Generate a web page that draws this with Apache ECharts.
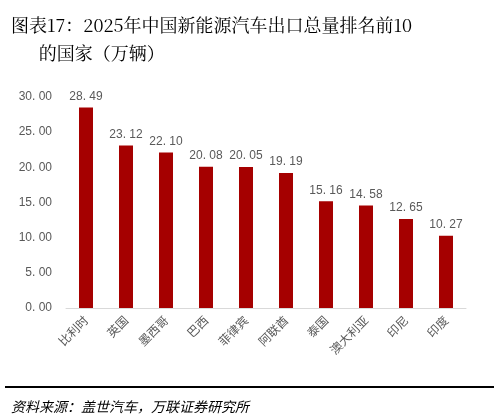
<!DOCTYPE html>
<html><head><meta charset="utf-8">
<script src="https://cdn.jsdelivr.net/npm/echarts@6/dist/echarts.min.js"></script>
<style>body{margin:0;background:#fff}#c{width:499px;height:418px}</style>
</head><body><div id="c"></div>
<script>
const categories=['比利时','英国','墨西哥','巴西','菲律宾','阿联酋','泰国','澳大利亚','印尼','印度'];
const values=[28.49,23.12,22.10,20.08,20.05,19.19,15.16,14.58,12.65,10.27];
const chart=echarts.init(document.getElementById('c'));
chart.setOption({
  animation:false,
  title:[{text:'图表17：2025年中国新能源汽车出口总量排名前10\n      的国家（万辆）',left:6,top:6,
    textStyle:{fontFamily:'Noto Serif CJK SC, Noto Sans CJK SC',fontSize:18,fontWeight:'normal',color:'#000',lineHeight:28}},
    {text:'资料来源：盖世汽车，万联证券研究所',left:6,top:395,
    textStyle:{fontFamily:'Noto Sans CJK SC',fontSize:14,fontWeight:'normal',fontStyle:'italic',color:'#000'}}],
  graphic:[{type:'line',shape:{x1:5,y1:387,x2:494,y2:387},style:{stroke:'#000',lineWidth:2}}],
  grid:{left:66,right:33,top:97,bottom:110},
  xAxis:{type:'category',data:categories,axisTick:{show:false},
    axisLine:{lineStyle:{color:'#d9d9d9'}},
    axisLabel:{rotate:45,color:'#595959',fontSize:12,fontFamily:'Noto Sans CJK SC',margin:10}},
  yAxis:{type:'value',min:0,max:30,interval:5,splitLine:{show:false},
    axisLabel:{formatter:v=>v.toFixed(2).replace('.','. '),color:'#595959',fontSize:12,margin:14}},
  series:[{type:'bar',data:values,barWidth:14,itemStyle:{color:'#a50000'},
    label:{show:true,position:'top',color:'#595959',fontSize:12,formatter:p=>p.value.toFixed(2).replace('.','. ')}}]
});
</script></body></html>
